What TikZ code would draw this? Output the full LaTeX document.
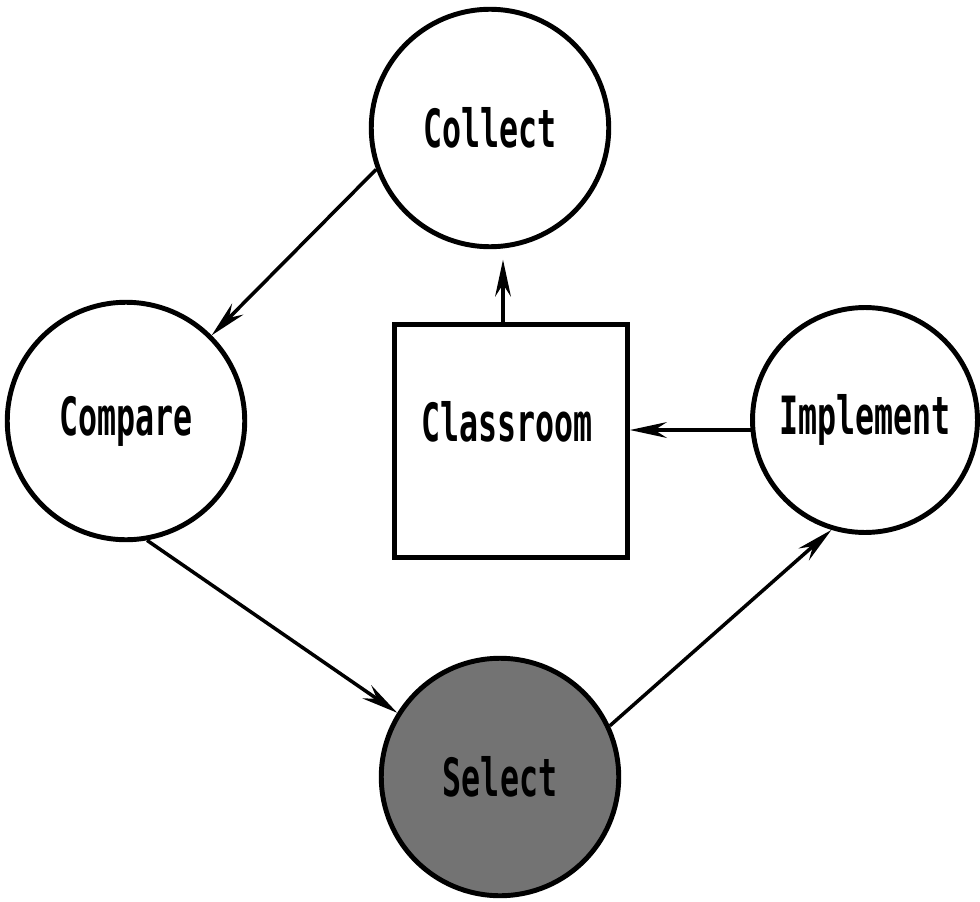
\documentclass[tikz,border=0pt]{standalone}
\usepackage{fontspec}
\usepackage{graphicx}
\newfontfamily\dotfont{DejaVu Sans Mono}
\newcommand{\squeeze}[1]{\scalebox{0.6}[1]{#1}}
\usetikzlibrary{arrows.meta}
\tikzset{
  stage/.style={circle, draw, line width=2.8pt, minimum size=4.75cm, inner sep=0pt,
    font=\dotfont\bfseries\fontsize{30}{30}\selectfont},
  roombox/.style={rectangle, draw, line width=2.8pt, minimum size=4.66cm, inner sep=0pt},
  flow/.style={line width=2pt, -{Stealth[length=21pt,width=9pt,inset=7pt]}},
}
\begin{document}
\begin{tikzpicture}[x=0.02cm,y=-0.02cm]
    \useasboundingbox (0,0) rectangle (980,902);
    % the four stages
    \node[stage] (collect) at (490,128) {\squeeze{Collect}};
    \node[stage] (compare) at (126,421) {\squeeze{Compare}};
    \node[stage, fill=black!55] (select) at (500,777) {\squeeze{Select}};
    \node[stage, minimum size=4.5cm] (implement) at (865,420) {\squeeze{Implement}};
    % the classroom in the middle
    \node[roombox] (room) at (511,441) {};
    \node[font=\dotfont\bfseries\fontsize{30}{30}\selectfont] (roomtext) at (507,422) {\squeeze{Classroom}};
    % the cycle
    \draw[flow] (collect.200) -- (compare.45);
    \draw[flow] (compare.280) -- (select.148);
    \draw[flow] (select.25) -- (implement.253);
    \draw[flow] (implement.185) -- (implement.185 -| room.east);
    \draw[flow, shorten >=6pt] ([xshift=-0.16cm]room.north) -- ([xshift=-0.16cm]room.north |- collect.south);
\end{tikzpicture}
\end{document}
